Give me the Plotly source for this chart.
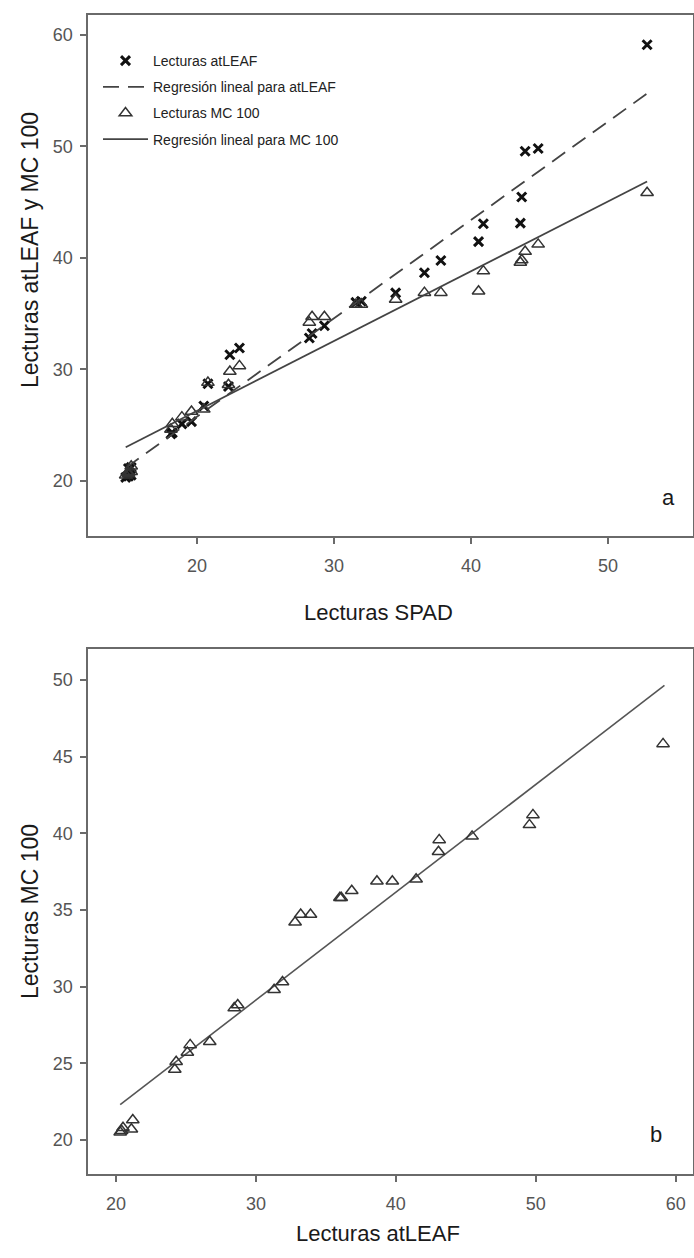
import plotly.graph_objects as go

# ---- data ----
spad = [14.8, 15.0, 15.2, 15.0, 15.2, 18.1, 18.2, 18.9, 19.6, 20.5, 20.8, 22.3, 22.4, 23.1,
        28.2, 28.4, 29.3, 31.6, 32.0, 34.5, 36.6, 37.8, 40.55, 40.9, 43.6, 43.7, 43.95, 44.9, 52.85]
atleaf = [20.3, 20.4, 20.5, 21.1, 21.2, 24.2, 24.3, 25.1, 25.3, 26.7, 28.7, 28.45, 31.3, 31.9,
          32.8, 33.2, 33.9, 36.0, 36.1, 36.85, 38.65, 39.75, 41.45, 43.05, 43.1, 45.45, 49.55, 49.8, 59.1]
mc100 = [20.5, 20.6, 20.8, 20.7, 21.3, 24.6, 25.1, 25.7, 26.2, 26.4, 28.8, 28.6, 29.8, 30.3,
         34.2, 34.7, 34.7, 35.8, 35.8, 36.25, 36.87, 36.87, 37.0, 38.8, 39.57, 39.8, 40.55, 41.2, 45.83]

reg_a_x = [14.8, 52.85]
reg_a_atleaf = [21.15, 54.73]
reg_a_mc = [23.0, 46.84]
reg_b_x = [20.3, 59.2]
reg_b_y = [22.3, 49.65]

x_ticks_a = [20, 30, 40, 50]
y_ticks_a = [20, 30, 40, 50, 60]
x_ticks_b = [20, 30, 40, 50, 60]
y_ticks_b = [20, 25, 30, 35, 40, 45, 50]

W, H = 694, 1258
FONT = "Liberation Sans, Arial, sans-serif"
AX = "#6a6a6a"
MK = "#333333"

fig = go.Figure()

# top panel
fig.add_trace(go.Scatter(x=spad, y=atleaf, mode="markers", name="Lecturas atLEAF",
                         legendgroup="g1",
                         marker=dict(symbol="x-thin", size=9, color="#111", line=dict(width=3, color="#111")),
                         xaxis="x", yaxis="y"))
fig.add_trace(go.Scatter(x=reg_a_x, y=reg_a_atleaf, mode="lines", name="Regresión lineal para atLEAF",
                         legendgroup="g2",
                         line=dict(color="#444", width=1.8, dash="16px,9px"), xaxis="x", yaxis="y"))
fig.add_trace(go.Scatter(x=spad, y=mc100, mode="markers", name="Lecturas MC 100",
                         legendgroup="g3",
                         marker=dict(symbol="triangle-up-open", size=11, color=MK,
                                     line=dict(width=1.5, color=MK)),
                         xaxis="x", yaxis="y"))
fig.add_trace(go.Scatter(x=reg_a_x, y=reg_a_mc, mode="lines", name="Regresión lineal para MC 100",
                         legendgroup="g4",
                         line=dict(color="#444", width=1.8), xaxis="x", yaxis="y"))

# bottom panel
fig.add_trace(go.Scatter(x=reg_b_x, y=reg_b_y, mode="lines", showlegend=False,
                         line=dict(color="#555", width=1.6), xaxis="x2", yaxis="y2"))
fig.add_trace(go.Scatter(x=atleaf, y=mc100, mode="markers", showlegend=False,
                         marker=dict(symbol="triangle-up-open", size=11, color=MK,
                                     line=dict(width=1.5, color=MK)),
                         xaxis="x2", yaxis="y2"))

left = 88.3 / W
right = 693.0 / W
axcommon = dict(showline=True, linecolor=AX, linewidth=2, mirror=True, ticks="outside",
                ticklen=6, tickwidth=1.5, tickcolor=AX, showgrid=False, zeroline=False,
                tickfont=dict(family=FONT, size=18, color="#555"))

fig.update_layout(
    width=W, height=H,
    margin=dict(l=0, r=0, t=0, b=0),
    paper_bgcolor="white", plot_bgcolor="white",
    font=dict(family=FONT, color="#222"),
    xaxis=dict(domain=[left, right], range=[12.07, 56.2], tickvals=x_ticks_a, anchor="y",
               ticklabelstandoff=6, **axcommon),
    yaxis=dict(domain=[1 - 536 / H, 1 - 14.7 / H], range=[15.04, 61.8], tickvals=y_ticks_a,
               anchor="x", ticklabelstandoff=4, **axcommon),
    xaxis2=dict(domain=[left, right], range=[18.02, 61.24], tickvals=x_ticks_b, anchor="y2",
                ticklabelstandoff=6, **axcommon),
    yaxis2=dict(domain=[1 - 1174 / H, 1 - 649.3 / H], range=[17.78, 52.0], tickvals=y_ticks_b,
                anchor="x2", ticklabelstandoff=4, **axcommon),
    legend=dict(x=98 / W, y=1 - 45 / H, xanchor="left", yanchor="top",
                bgcolor="rgba(0,0,0,0)", font=dict(family=FONT, size=14, color="#222"),
                tracegroupgap=5, itemwidth=45),
    showlegend=True,
)

ann = [
    dict(text="Lecturas SPAD", x=378 / W, y=1 - 612 / H, size=22),
    dict(text="Lecturas atLEAF", x=378 / W, y=1 - 1233 / H, size=22),
    dict(text="Lecturas atLEAF y MC 100", x=30 / W, y=1 - 250 / H, angle=-90, size=23),
    dict(text="Lecturas MC 100", x=30 / W, y=1 - 912 / H, angle=-90, size=23),
    dict(text="a", x=668 / W, y=1 - 497 / H, size=22),
    dict(text="b", x=656 / W, y=1 - 1134 / H, size=22),
]
for a in ann:
    fig.add_annotation(xref="paper", yref="paper", showarrow=False, xanchor="center", yanchor="middle",
                       text=a["text"], x=a["x"], y=a["y"], textangle=a.get("angle", 0),
                       font=dict(family=FONT, color="#1a1a1a", size=a["size"]))

fig.write_html("out.html")
